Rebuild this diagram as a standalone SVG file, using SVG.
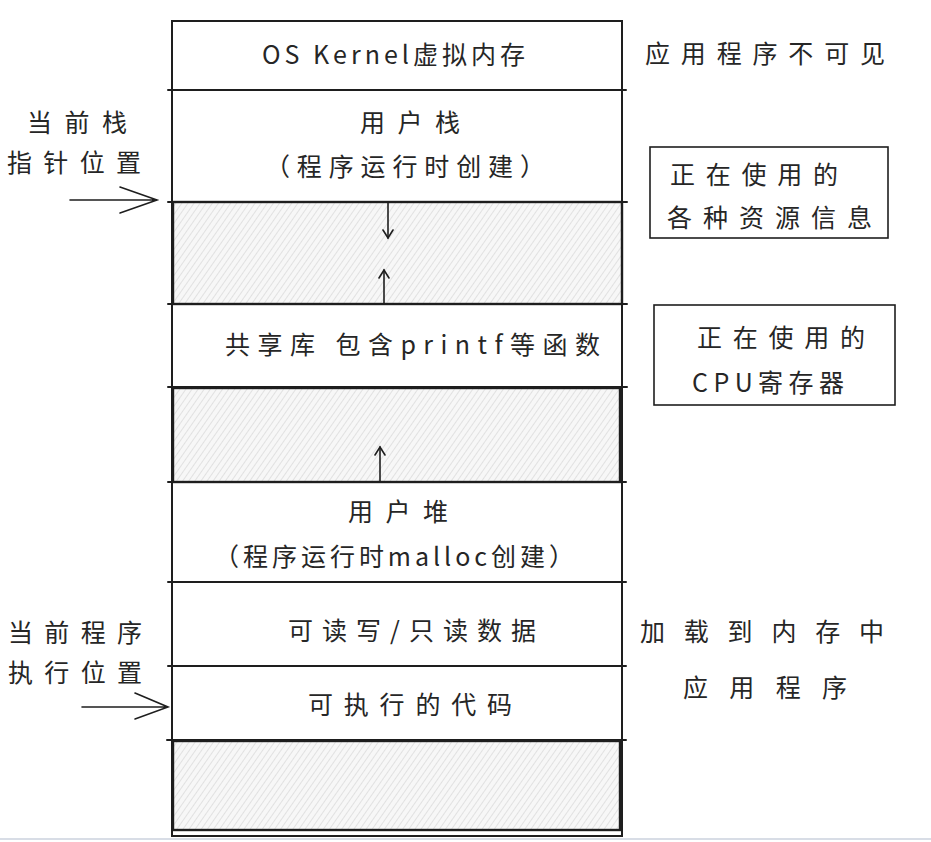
<svg xmlns="http://www.w3.org/2000/svg" width="931" height="842" viewBox="0 0 931 842">
<style>
.t{font-family:"Noto Sans CJK SC","Noto Sans",sans-serif;font-size:25px;fill:#262626;}
.ln{stroke:#1e1e1e;stroke-width:2;fill:none;stroke-linecap:round;}
.thin{stroke:#1e1e1e;stroke-width:1.6;fill:none;stroke-linecap:round;}
.hb{fill:url(#hatch);stroke:#1e1e1e;stroke-width:2.4;}
</style>
<defs>
<pattern id="hatch" width="5" height="5" patternUnits="userSpaceOnUse" patternTransform="rotate(35)">
<rect width="5" height="5" fill="#f7f7f7"/>
<line x1="0" y1="0" x2="0" y2="5" stroke="#cccccc" stroke-width="1"/>
</pattern>
<marker id="ah" markerWidth="12" markerHeight="12" refX="10" refY="6" orient="auto" markerUnits="userSpaceOnUse">
<path d="M2,1 L10,6 L2,11" fill="none" stroke="#1e1e1e" stroke-width="1.6" stroke-linecap="round"/>
</marker>
</defs>
<rect width="931" height="842" fill="#ffffff"/>
<g id="column">
<rect x="172" y="21" width="450" height="815" class="ln" fill="#ffffff"/>
<line x1="168" y1="90" x2="626" y2="90" class="ln"/>
<line x1="168" y1="202" x2="627" y2="202" class="ln"/>
<line x1="168" y1="304" x2="627" y2="304" class="ln"/>
<line x1="168" y1="387" x2="627" y2="387" class="ln"/>
<line x1="168" y1="482" x2="626" y2="482" class="ln"/>
<line x1="168" y1="582" x2="626" y2="582" class="ln"/>
<line x1="168" y1="666" x2="626" y2="666" class="ln"/>
<line x1="167" y1="740" x2="626" y2="740" class="ln"/>
</g>
<g id="os-kernel">
<text class="t" x="262" y="64" textLength="263" lengthAdjust="spacing">OS Kernel虚拟内存</text>
</g>
<g id="user-stack">
<text class="t" x="360" y="132" textLength="100" lengthAdjust="spacing">用户栈</text>
<text class="t" x="265" y="176" textLength="280" lengthAdjust="spacing">（程序运行时创建）</text>
</g>
<g id="gap-1">
<rect x="173" y="202" width="449" height="102" class="hb"/>
</g>
<g id="shared-lib">
<text class="t" x="225" y="354" textLength="375" lengthAdjust="spacing">共享库  包含printf等函数</text>
</g>
<g id="gap-2">
<rect x="173" y="388" width="447" height="94" class="hb"/>
</g>
<g id="user-heap">
<text class="t" x="348" y="521" textLength="100" lengthAdjust="spacing">用户堆</text>
<text class="t" x="214" y="566" textLength="360" lengthAdjust="spacing">（程序运行时malloc创建）</text>
</g>
<g id="rw-data">
<text class="t" x="288" y="640" textLength="248" lengthAdjust="spacing">可读写/只读数据</text>
</g>
<g id="code">
<text class="t" x="308" y="714" textLength="204" lengthAdjust="spacing">可执行的代码</text>
</g>
<g id="gap-3">
<rect x="173" y="741" width="447" height="89" class="hb"/>
</g>
<g id="label-invisible">
<text class="t" x="645" y="63" textLength="240" lengthAdjust="spacing">应用程序不可见</text>
</g>
<g id="label-stack-pointer">
<text class="t" x="27" y="132" textLength="100" lengthAdjust="spacing">当前栈</text>
<text class="t" x="7" y="172" textLength="134" lengthAdjust="spacing">指针位置</text>
</g>
<g id="label-exec-pos">
<text class="t" x="8" y="642" textLength="134" lengthAdjust="spacing">当前程序</text>
<text class="t" x="8" y="682" textLength="134" lengthAdjust="spacing">执行位置</text>
</g>
<g id="box-resources">
<rect x="650" y="147" width="238" height="91" class="thin" fill="none"/>
<text class="t" x="670" y="184" textLength="168" lengthAdjust="spacing">正在使用的</text>
<text class="t" x="667" y="227" textLength="205" lengthAdjust="spacing">各种资源信息</text>
</g>
<g id="box-registers">
<rect x="654" y="305" width="241" height="100" class="thin" fill="none"/>
<text class="t" x="697" y="347" textLength="168" lengthAdjust="spacing">正在使用的</text>
<text class="t" x="692" y="392" textLength="152" lengthAdjust="spacing">CPU寄存器</text>
</g>
<g id="label-loaded">
<text class="t" x="640" y="641" textLength="244" lengthAdjust="spacing">加载到内存中</text>
<text class="t" x="683" y="697" textLength="164" lengthAdjust="spacing">应用程序</text>
</g>
<g id="connectors">
<line x1="388" y1="203" x2="388" y2="238" class="thin" marker-end="url(#ah)"/>
<line x1="384" y1="303" x2="384" y2="270" class="thin" marker-end="url(#ah)"/>
<line x1="380" y1="481" x2="380" y2="447" class="thin" marker-end="url(#ah)"/>
<path d="M70,200 L157,200 M120,187 L157,200 L120,213" class="thin"/>
<path d="M82,707 L168,707 M135,693 L168,707 L135,719" class="thin"/>
</g>
<line x1="0" y1="839" x2="931" y2="839" stroke="#d8dde6" stroke-width="2"/>
</svg>
